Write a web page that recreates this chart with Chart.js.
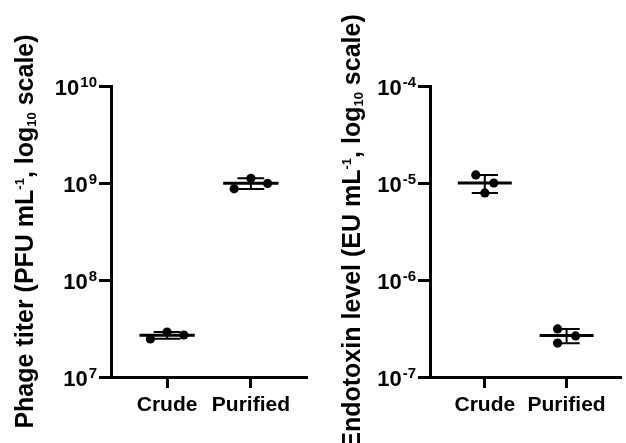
<!DOCTYPE html>
<html>
<head>
<meta charset="utf-8">
<script src="https://cdn.jsdelivr.net/npm/chart.js@4.4.1/dist/chart.umd.min.js"></script>
<style>
    body { margin: 0; background: #fff; }
    .panel { position: absolute; top: 0; width: 313px; height: 443px; }
</style>
</head>
<body>
<div class="panel" style="left:0"><canvas id="phageChart" width="313" height="443"></canvas></div>
<div class="panel" style="left:313px"><canvas id="endoChart" width="313" height="443"></canvas></div>
<script>
//--- DATA ---//
const categories = ["Crude", "Purified"];

const phageCrude = [2.47e7, 2.91e7, 2.71e7];
const phagePurified = [0.87e9, 1.12e9, 0.99e9];
const phageSpread = [[-0.2, 0, 0.2], [-0.2, 0, 0.2]];
const phageTicks = [1e7, 1e8, 1e9, 1e10];

const endoCrude = [1.21e-5, 0.79e-5, 1.0e-5];
const endoPurified = [3.13e-7, 2.24e-7, 2.65e-7];
const endoSpread = [[-0.11, 0, 0.11], [-0.11, -0.11, 0.11]];
const endoTicks = [1e-7, 1e-6, 1e-5, 1e-4];

const FONT = '"Liberation Sans", Arial, sans-serif';
Chart.defaults.font.family = FONT;
Chart.defaults.color = '#000';

function mean(a) { return a.reduce((s, v) => s + v, 0) / a.length; }
function sd(a) {
    const m = mean(a);
    return Math.sqrt(a.reduce((s, v) => s + (v - m) * (v - m), 0) / (a.length - 1));
}

function pointData(groups, spread) {
    return groups.flatMap((vals, i) => vals.map((v, j) => ({ x: i + spread[i][j], y: v })));
}
function meanData(groups) {
    const d = [];
    groups.forEach((vals, i) => {
        const m = mean(vals);
        d.push({ x: i - 0.33, y: m }, { x: i + 0.33, y: m }, { x: i, y: null });
    });
    return d;
}
function sdData(groups) {
    const d = [], c = 0.16;
    groups.forEach((vals, i) => {
        const m = mean(vals), s = sd(vals);
        d.push({ x: i - c, y: m + s }, { x: i + c, y: m + s }, { x: i, y: null });
        d.push({ x: i, y: m + s }, { x: i, y: m - s }, { x: i, y: null });
        d.push({ x: i - c, y: m - s }, { x: i + c, y: m - s }, { x: i, y: null });
    });
    return d;
}

// tick labels as 10^n and the rotated axis title with sub/superscripts
const sciLabels = {
    id: 'sciLabels',
    afterDraw(chart, args, opts) {
        const ctx = chart.ctx, ys = chart.scales.y, area = chart.chartArea;
        ctx.save();
        ctx.fillStyle = '#000';
        ctx.textBaseline = 'alphabetic';
        ctx.textAlign = 'right';
        ys.ticks.forEach(t => {
            const py = ys.getPixelForValue(t.value);
            const exp = String(Math.round(Math.log10(t.value)));
            const right = area.left - 14;
            ctx.font = 'bold 15px ' + FONT;
            const ew = ctx.measureText(exp).width;
            ctx.fillText(exp, right, py + 0.5);
            ctx.font = 'bold 22px ' + FONT;
            ctx.fillText('10', right - ew - 1, py + 8.5);
        });

        // axis title
        const parts = opts.title;
        const big = 'bold 25px ' + FONT, small = 'bold 13px ' + FONT;
        let w = 0;
        parts.forEach(p => { ctx.font = p[1] ? small : big; w += ctx.measureText(p[0]).width; });
        ctx.translate(opts.titleX, (area.top + area.bottom) / 2);
        ctx.rotate(-Math.PI / 2);
        ctx.textAlign = 'left';
        let u = -w / 2;
        parts.forEach(p => {
            ctx.font = p[1] ? small : big;
            const dv = p[1] === 1 ? -9 : p[1] === 2 ? 3 : 0;
            ctx.fillText(p[0], u, dv);
            u += ctx.measureText(p[0]).width;
        });
        ctx.restore();
    }
};

function makeChart(canvasId, groups, spread, ticks, title, titleX, axisX, padRight) {
    const ctx = document.getElementById(canvasId).getContext('2d');
    return new Chart(ctx, {
        type: 'scatter',
        data: {
            datasets: [{
                data: pointData(groups, spread),
                backgroundColor: '#000',
                borderWidth: 0,
                pointRadius: 4.6,
                order: 0
            }, {
                data: meanData(groups),
                showLine: true,
                borderColor: '#000',
                borderWidth: 3,
                pointRadius: 0,
                spanGaps: false,
                order: 1
            }, {
                data: sdData(groups),
                showLine: true,
                borderColor: '#000',
                borderWidth: 2,
                pointRadius: 0,
                spanGaps: false,
                order: 2
            }]
        },
        options: {
            responsive: false,
            animation: false,
            layout: { padding: { top: 86, left: 0, right: padRight, bottom: 0 } },
            plugins: {
                legend: { display: false },
                tooltip: { enabled: false },
                sciLabels: { title: title, titleX: titleX }
            },
            scales: {
                x: {
                    type: 'linear',
                    min: -0.67,
                    max: 1.67,
                    afterBuildTicks: s => { s.ticks = categories.map((c, i) => ({ value: i })); },
                    afterFit: s => { s.height = 66; },
                    ticks: {
                        callback: v => categories[Math.round(v)],
                        font: { size: 21, weight: 'bold' },
                        color: '#000',
                        padding: 5,
                        autoSkip: false,
                        maxRotation: 0
                    },
                    grid: { drawOnChartArea: false, tickLength: 11, tickWidth: 3, tickColor: '#000' },
                    border: { color: '#000', width: 3 }
                },
                y: {
                    type: 'logarithmic',
                    min: ticks[0],
                    max: ticks[ticks.length - 1],
                    afterBuildTicks: s => { s.ticks = ticks.map(v => ({ value: v })); },
                    afterFit: s => { s.width = axisX; },
                    ticks: { display: false },
                    grid: { drawOnChartArea: false, tickLength: 12, tickWidth: 3, tickColor: '#000' },
                    border: { color: '#000', width: 3 }
                }
            }
        },
        plugins: [sciLabels]
    });
}

var phageChart = makeChart('phageChart', [phageCrude, phagePurified], phageSpread, phageTicks,
    [['Phage titer (PFU mL', 0], ['-1', 1], [', log', 0], ['10', 2], [' scale)', 0]], 32.5, 111, 6);
var endoChart = makeChart('endoChart', [endoCrude, endoPurified], endoSpread, endoTicks,
    [['Endotoxin level (EU mL', 0], ['-1', 1], [', log', 0], ['10', 2], [' scale)', 0]], 47, 117, 0);
</script>
</body>
</html>
